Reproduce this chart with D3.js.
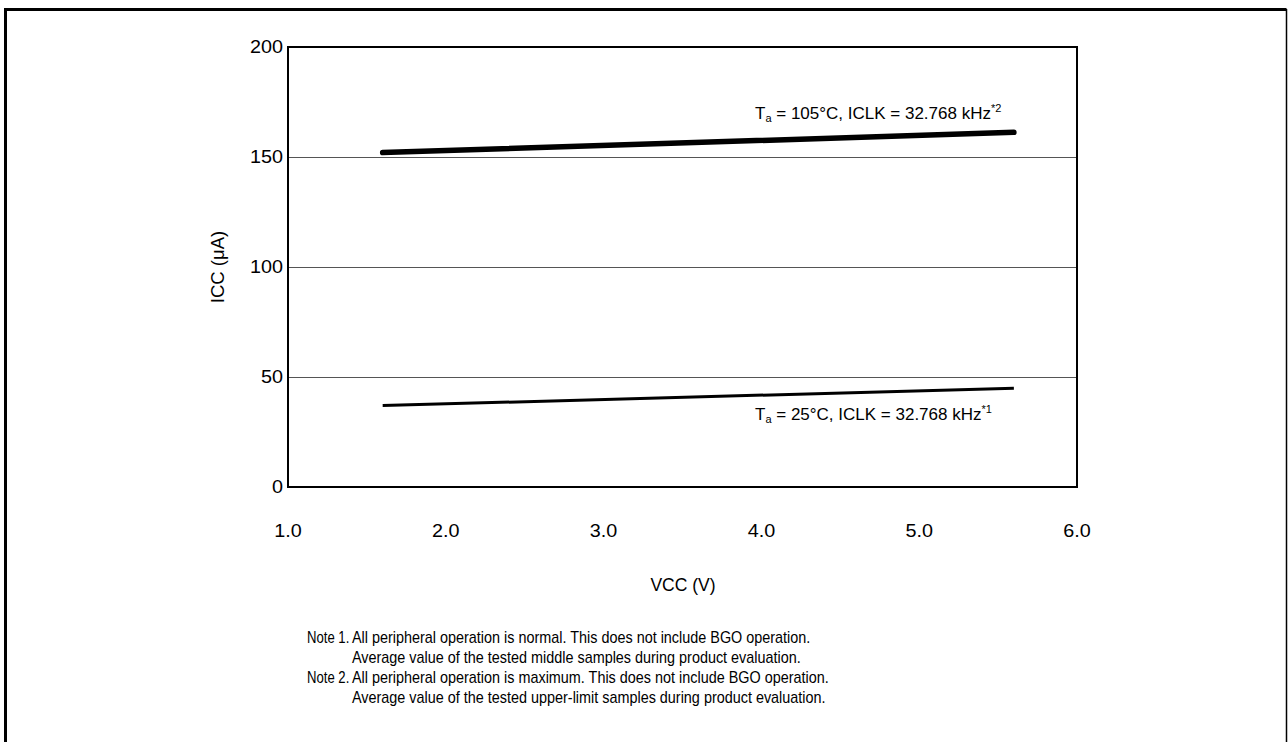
<!DOCTYPE html>
<html><head><meta charset="utf-8">
<script src="https://cdn.jsdelivr.net/npm/d3@7"></script>
<style>
html,body{margin:0;padding:0;background:#fff;}
svg{display:block;font-family:"Liberation Sans",Arial,sans-serif;}
</style></head>
<body>
<svg id="c" width="1288" height="742"></svg>
<script>
const xTicks = [1.0, 2.0, 3.0, 4.0, 5.0, 6.0];
const yTicks = [0, 50, 100, 150, 200];
const vcc = [1.6, 5.6];
const icc105 = [152.0, 161.2];
const icc25 = [37.0, 44.9];
const notes = [
  ["Note 1.", "All peripheral operation is normal. This does not include BGO operation."],
  ["", "Average value of the tested middle samples during product evaluation."],
  ["Note 2.", "All peripheral operation is maximum. This does not include BGO operation."],
  ["", "Average value of the tested upper-limit samples during product evaluation."]
];

const svg = d3.select("#c");
// outer frame
svg.append("path").attr("d","M5.5,760 L5.5,9.5 L1286.5,9.5")
  .attr("fill","none").attr("stroke","#000").attr("stroke-width",3);
svg.append("line").attr("x1",1286.5).attr("x2",1286.5).attr("y1",9).attr("y2",742)
  .attr("stroke","#000").attr("stroke-width",1.5);

const L=288, R=1077, T=47, B=487;
const x = d3.scaleLinear().domain([1,6]).range([L,R]);
const y = d3.scaleLinear().domain([0,200]).range([B,T]);

// gridlines
svg.append("g").selectAll("line").data(yTicks.filter(d=>d>0&&d<200)).join("line")
  .attr("x1",L).attr("x2",R).attr("y1",d=>y(d)+0.5).attr("y2",d=>y(d)+0.5)
  .attr("stroke","#555").attr("stroke-width",1);

// plot frame
svg.append("rect").attr("x",L).attr("y",T).attr("width",R-L).attr("height",B-T)
  .attr("fill","none").attr("stroke","#000").attr("stroke-width",2);

// y tick labels
svg.append("g").selectAll("text").data(yTicks).join("text")
  .attr("transform",d=>`translate(${L-5},${y(d)}) scale(1.1,1)`)
  .attr("dy","0.36em").attr("text-anchor","end")
  .attr("font-size",18).text(d=>d);
// x tick labels
svg.append("g").selectAll("text").data(xTicks).join("text")
  .attr("transform",d=>`translate(${x(d)},531) scale(1.1,1)`)
  .attr("dy","0.36em").attr("text-anchor","middle")
  .attr("font-size",18).text(d=>d.toFixed(1));

// axis titles
svg.append("text").attr("x",683).attr("y",585).attr("dy","0.36em").attr("text-anchor","middle")
  .attr("font-size",17.5).text("VCC (V)");
svg.append("text").attr("transform","translate(217,267) rotate(-90)").attr("dy","0.36em")
  .attr("text-anchor","middle").attr("font-size",18.5).text("ICC (\u03BCA)");

// lines
const line = d3.line().x(d=>x(d[0])).y(d=>y(d[1]));
svg.append("path").datum(vcc.map((v,i)=>[v,icc105[i]])).attr("d",line)
  .attr("fill","none").attr("stroke","#000").attr("stroke-width",5.5).attr("stroke-linecap","round");
svg.append("path").datum(vcc.map((v,i)=>[v,icc25[i]])).attr("d",line)
  .attr("fill","none").attr("stroke","#000").attr("stroke-width",3).attr("stroke-linecap","butt");

// annotations
function ann(xp, yp, temp, sup){
  const t = svg.append("text").attr("x",xp).attr("y",yp).attr("font-size",17);
  t.append("tspan").text("T");
  t.append("tspan").attr("font-size",11).attr("dy",3).text("a");
  t.append("tspan").attr("dy",-3).text(" = " + temp + "\u00B0C, ICLK = 32.768 kHz");
  t.append("tspan").attr("font-size",11).attr("dy",-7).text("*" + sup);
}
ann(755, 118.5, "105", "2");
ann(755, 419.5, "25", "1");

// notes
const ng = svg.append("g").attr("font-size",16);
notes.forEach((n,i)=>{
  const yy = 637 + i*20.2;
  ng.append("text").attr("transform",`translate(307,${yy}) scale(0.82,1)`).attr("dy","0.36em").text(n[0]);
  ng.append("text").attr("transform",`translate(352,${yy}) scale(0.9,1)`).attr("dy","0.36em").text(n[1]);
});
</script>
</body></html>
